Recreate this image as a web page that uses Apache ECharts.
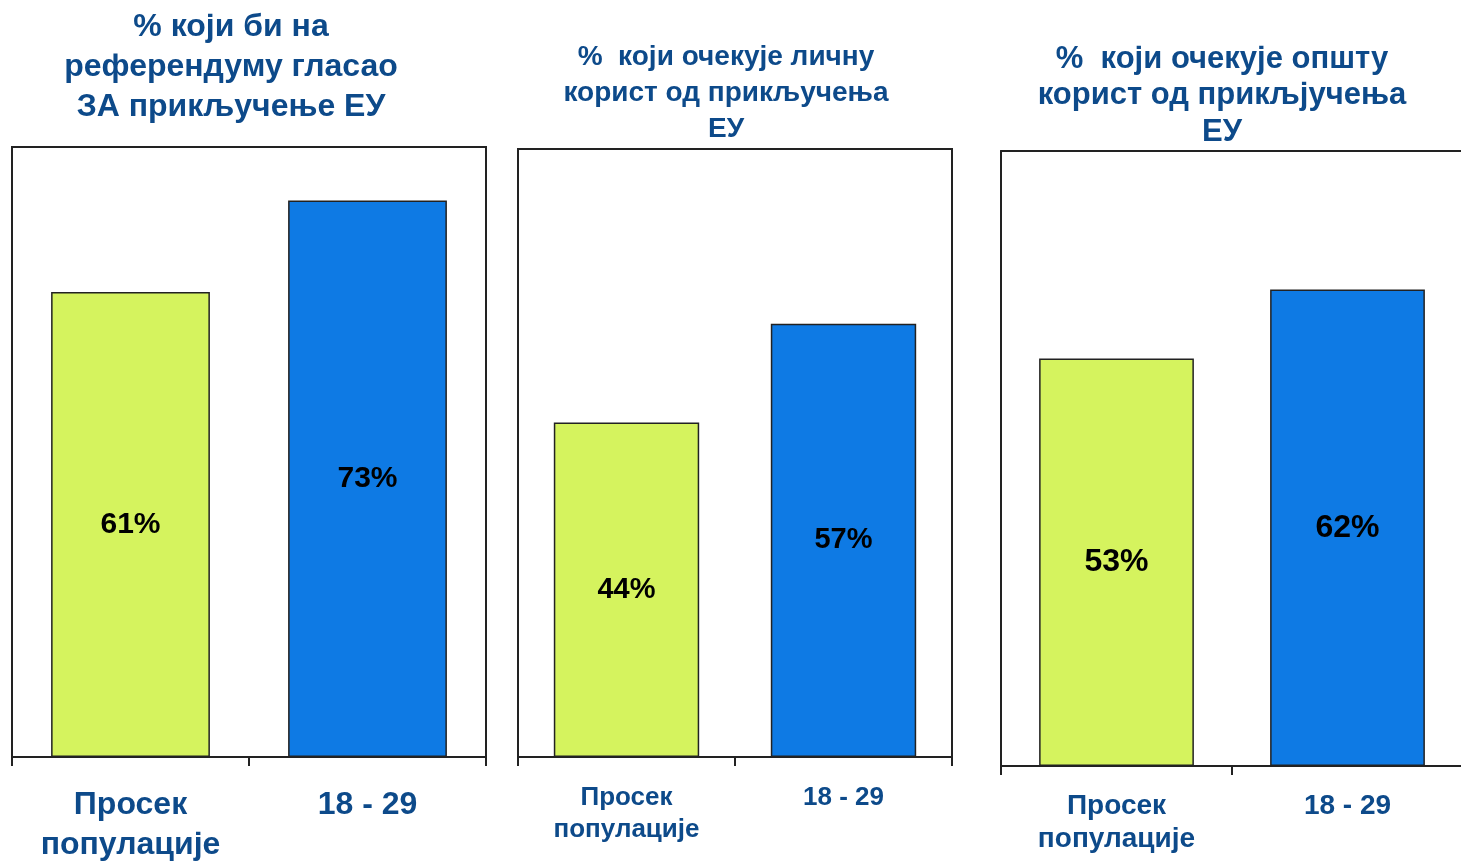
<!DOCTYPE html>
<html>
<head>
<meta charset="utf-8">
<script src="https://cdn.jsdelivr.net/npm/echarts@6/dist/echarts.min.js"></script>
<style>
html,body{margin:0;padding:0;background:#fff;}
#chart{width:1461px;height:861px;}
</style>
</head>
<body>
<div id="chart"></div>
<script>
var categories = ['Просек\nпопулације', '18 - 29'];
var titles = [
  '% који би на\nреферендуму гласао\nЗА прикључење ЕУ',
  '%  који очекује личну\nкорист од прикључења\nЕУ',
  '%  који очекује општу\nкорист од прикљјучења\nЕУ'
];
var valuesVote = [61, 73];
var valuesPersonal = [44, 57];
var valuesGeneral = [53, 62];
var panelValues = [valuesVote, valuesPersonal, valuesGeneral];

var FONT = "'Liberation Sans', Arial, sans-serif";
var TITLE_COLOR = '#0d4a8a';
var GREEN = '#d5f35e';
var BLUE = '#0e7ae4';

var layout = [
  {left: 12, top: 147, width: 474, height: 610, titleX: 226, titleTop: 2, titleSize: 32, titleLH: 40, catSize: 32, catLH: 40, catMargin: 28, valSize: 30, barW: '67%', box: true},
  {left: 518, top: 149, width: 434, height: 608, titleX: 721, titleTop: 34, titleSize: 28, titleLH: 36, catSize: 26, catLH: 32, catMargin: 25, valSize: 29, barW: '67%', box: true},
  {left: 1001, top: 151, width: 462, height: 615, titleX: 1217, titleTop: 36, titleSize: 31, titleLH: 36.5, catSize: 28, catLH: 33, catMargin: 24, valSize: 32, barW: '67%', box: false}
];

var option = {
  animation: false,
  backgroundColor: '#fff',
  title: [], grid: [], xAxis: [], yAxis: [], series: []
};

layout.forEach(function (L, i) {
  option.title.push({
    text: titles[i], left: L.titleX, top: L.titleTop, textAlign: 'center',
    textStyle: {fontFamily: FONT, fontWeight: 'bold', fontSize: L.titleSize, lineHeight: L.titleLH, color: TITLE_COLOR}
  });
  option.grid.push({
    left: L.left, top: L.top, width: L.width, height: L.height,
    containLabel: false, outerBoundsMode: 'none',
    show: L.box, borderColor: '#222', borderWidth: 2, backgroundColor: '#fff'
  });
  option.xAxis.push({
    type: 'category', gridIndex: i, data: categories, boundaryGap: true, position: 'bottom',
    axisLine: {show: true, lineStyle: {color: '#222', width: 2}},
    axisTick: {show: true, length: 9, lineStyle: {color: '#222', width: 2}},
    axisLabel: {fontFamily: FONT, fontWeight: 'bold', fontSize: L.catSize, lineHeight: L.catLH, color: TITLE_COLOR, margin: L.catMargin, interval: 0}
  });
  option.yAxis.push({
    type: 'value', gridIndex: i, min: 0, max: 80, interval: 20,
    axisLine: {show: !L.box, lineStyle: {color: '#222', width: 2}},
    axisTick: {show: false}, axisLabel: {show: false}, splitLine: {show: false}
  });
  option.series.push({
    type: 'bar', xAxisIndex: i, yAxisIndex: i, barWidth: L.barW,
    data: panelValues[i].map(function (v, j) {
      return {value: v, itemStyle: {color: j === 0 ? GREEN : BLUE}};
    }),
    itemStyle: {borderColor: '#222', borderWidth: 1.5},
    label: {
      show: true, position: 'inside', formatter: '{c}%',
      fontFamily: FONT, fontWeight: 'bold', fontSize: L.valSize, color: '#000'
    }
  });
});

// top border line for the third (cropped) panel
option.xAxis.push({
  type: 'category', gridIndex: 2, data: categories, position: 'top',
  axisLine: {show: true, lineStyle: {color: '#222', width: 2}},
  axisTick: {show: false}, axisLabel: {show: false}, splitLine: {show: false}
});

var chart = echarts.init(document.getElementById('chart'), null, {renderer: 'canvas'});
chart.setOption(option);
</script>
</body>
</html>
